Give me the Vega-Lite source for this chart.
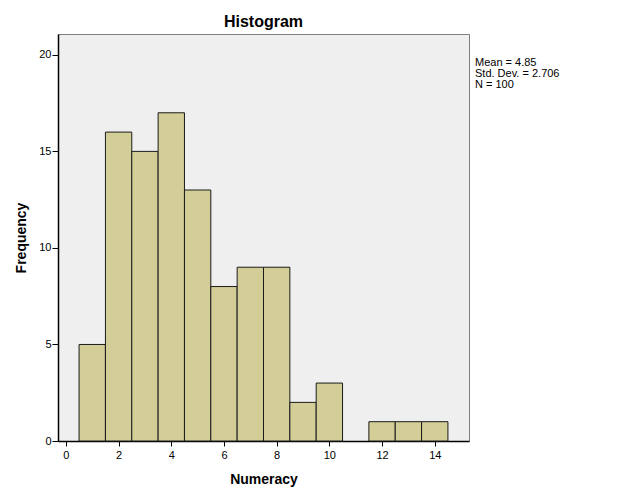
{
  "$schema": "https://vega.github.io/schema/vega-lite/v6.json",
  "autosize": "none",
  "width": 411,
  "height": 407,
  "padding": {"left": 58, "top": 34, "right": 156, "bottom": 59},
  "background": "white",
  "config": {
    "font": "Liberation Sans",
    "view": {"fill": "#EFEFEF", "stroke": "#7F7F7F", "strokeWidth": 1}
  },
  "title": {"text": "Histogram", "fontSize": 16, "fontWeight": "bold", "color": "black", "font": "Liberation Sans", "offset": 4, "anchor": "middle"},
  "datasets": {
    "bins": [
      {"start": 0.5, "end": 1.5, "count": 5},
      {"start": 1.5, "end": 2.5, "count": 16},
      {"start": 2.5, "end": 3.5, "count": 15},
      {"start": 3.5, "end": 4.5, "count": 17},
      {"start": 4.5, "end": 5.5, "count": 13},
      {"start": 5.5, "end": 6.5, "count": 8},
      {"start": 6.5, "end": 7.5, "count": 9},
      {"start": 7.5, "end": 8.5, "count": 9},
      {"start": 8.5, "end": 9.5, "count": 2},
      {"start": 9.5, "end": 10.5, "count": 3},
      {"start": 11.5, "end": 12.5, "count": 1},
      {"start": 12.5, "end": 13.5, "count": 1},
      {"start": 13.5, "end": 14.5, "count": 1}
    ],
    "stats": [
      {"x": 15.3, "y": 19.6, "label": ["Mean = 4.85", "Std. Dev. = 2.706", "N = 100"]}
    ]
  },
  "layer": [
    {
      "data": {"name": "bins"},
      "mark": {"type": "rect", "fill": "#D3CE98", "stroke": "#1A1A1A", "strokeWidth": 1},
      "encoding": {
        "x": {
          "field": "start", "type": "quantitative",
          "scale": {"domain": [-0.3, 15.3], "nice": false, "zero": false},
          "axis": {
            "values": [0, 2, 4, 6, 8, 10, 12, 14],
            "title": "Numeracy", "titleFontSize": 14, "titleFontWeight": "bold", "titleColor": "black", "titlePadding": 12,
            "labelFontSize": 11, "labelColor": "black", "labelPadding": 3,
            "domainColor": "black", "domainWidth": 1.5, "tickColor": "black", "tickSize": 5, "grid": false
          }
        },
        "x2": {"field": "end"},
        "y": {
          "field": "count", "type": "quantitative",
          "scale": {"domain": [0, 21.08], "nice": false},
          "axis": {
            "values": [0, 5, 10, 15, 20],
            "title": "Frequency", "titleFontSize": 14, "titleFontWeight": "bold", "titleColor": "black", "titlePadding": 10,
            "labelFontSize": 11, "labelColor": "black", "labelPadding": 1,
            "domainColor": "black", "domainWidth": 1.5, "tickColor": "black", "tickSize": 6, "grid": false
          }
        },
        "y2": {"datum": 0}
      }
    },
    {
      "data": {"name": "stats"},
      "mark": {"type": "text", "align": "left", "baseline": "middle", "dx": 6, "fontSize": 11, "lineHeight": 11, "color": "black", "clip": false},
      "encoding": {
        "x": {"field": "x", "type": "quantitative"},
        "y": {"field": "y", "type": "quantitative"},
        "text": {"field": "label"}
      }
    }
  ]
}
